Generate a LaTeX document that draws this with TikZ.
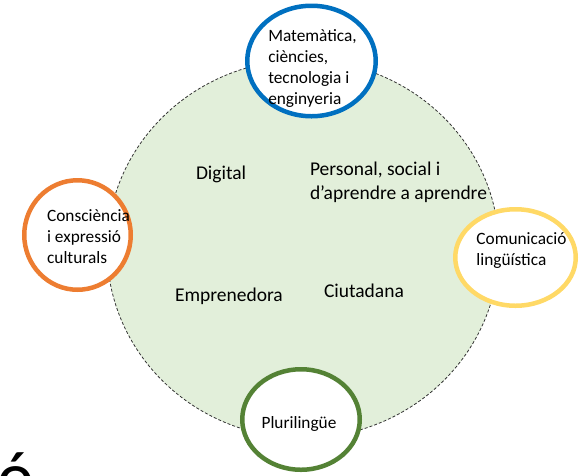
\documentclass[tikz,border=0pt]{standalone}
\usepackage{fontspec}
\setmainfont{Carlito}
\usetikzlibrary{shapes.geometric,positioning,calc}
\definecolor{myblue}{RGB}{0,112,192}
\definecolor{myorange}{RGB}{237,125,49}
\definecolor{myyellow}{RGB}{255,217,102}
\definecolor{mygreen}{RGB}{84,130,53}
\definecolor{mypale}{RGB}{226,239,218}

\begin{document}
\begin{tikzpicture}[x=1pt,y=-1pt,
    every node/.style={inner sep=0pt,outer sep=0pt},
    area/.style={ellipse,draw=black!80,dash pattern=on 3pt off 2pt,line width=0.8pt,
      fill=mypale,minimum width=392pt,minimum height=378pt},
    ring/.style={ellipse,fill=white,line width=4.5pt},
    bigtxt/.style={font=\fontsize{19.5}{23.5}\selectfont,align=left,anchor=base west},
    smalltxt/.style={font=\fontsize{17.3}{21}\selectfont,align=left}
  ]
  \useasboundingbox (0,0) rectangle (583,475);

  % the shared area
  \node[area] (area) at (303,249) {};

  % the competences inside
  \node[bigtxt] (dig) at (196,179) {Digital};
  \node[bigtxt] (pers) at (310,199) {Personal, social i\\d’aprendre a aprendre};
  \node[bigtxt] (empr) at (175,301) {Emprenedora};
  \node[bigtxt] (ciut) at (324,297) {Ciutadana};

  % the rings round it
  \node[ring,draw=myblue,minimum width=128.5pt,minimum height=110.5pt]
    (mat) at ([shift={(8.5,1)}]area.north) {};
  \node[ring,draw=myorange,minimum width=106.5pt,minimum height=109.5pt]
    (cons) at ([shift={(-29.5,-14)}]area.west) {};
  \node[ring,draw=myyellow,minimum width=120.5pt,minimum height=96.5pt]
    (comu) at ([shift={(16.5,8.5)}]area.east) {};
  \node[ring,draw=mygreen,minimum width=117.5pt,minimum height=100.5pt]
    (plur) at ([shift={(-2,-18.5)}]area.south) {};

  % the ring texts
  \node[smalltxt] (matt) at ([shift={(1,7)}]mat.center)
    {Matemàtica,\\ciències,\\tecnologia i\\enginyeria};
  \node[smalltxt] (const) at ([shift={(11,2)}]cons.center)
    {Consciència\\i expressió\\culturals};
  \node[smalltxt] (comut) at ([shift={(6,-6.5)}]comu.center)
    {Comunicació\\lingüística};
  \node[smalltxt] (plurt) at ([shift={(-2,4.5)}]plur.center) {Plurilingüe};

  % the cut letter
  \node[font=\fontsize{70}{70}\selectfont,anchor=base west] (cut) at (-2,500) {ó};
\end{tikzpicture}
\end{document}
